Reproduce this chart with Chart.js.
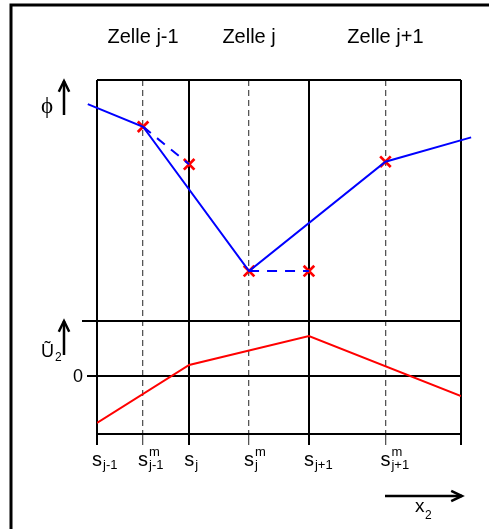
<!DOCTYPE html>
<html>
<head>
<meta charset="utf-8">
<script src="https://cdn.jsdelivr.net/npm/chart.js@4/dist/chart.umd.min.js"></script>
<style>
  html, body { margin: 0; padding: 0; background: #fff; }
  #wrap { position: relative; width: 489px; height: 529px; }
</style>
</head>
<body>
<div id="wrap"><canvas id="grafZellen" width="489" height="529"></canvas></div>
<script>
// Gitter in x2-Richtung: Zellgrenzen s und Zellmitten s^m
const gitterX = [0, 0.5, 1, 1.65, 2.3, 3.13, 3.95];
const istMitte = [false, true, false, true, false, true, false];

// Beschriftung der x-Achse (Grundbuchstabe, Index unten, Index oben)
const xLabelBasis = ['s', 's', 's', 's', 's', 's'];
const xLabelUnten = ['j-1', 'j-1', 'j', 'j', 'j+1', 'j+1'];
const xLabelOben = ['', 'm', '', 'm', '', 'm'];

// Zellnamen (über den Zellmitten)
const zellNamen = ['Zelle j-1', 'Zelle j', 'Zelle j+1'];
const zellMitten = [0.5, 1.65, 3.13];

// phi: stückweise lineare Rekonstruktion
const phiX = [-0.1, 0.5, 1.65, 3.13, 4.06];
const phiY = [9.0, 8.06, 2.07, 6.61, 7.62];

// phi: Werte an den Rändern (gestrichelt)
const phiRand1X = [0.5, 1];
const phiRand1Y = [8.06, 6.5];
const phiRand2X = [1.65, 2.3];
const phiRand2Y = [2.07, 2.07];

// Stützstellen (Kreuze)
const kreuzX = [0.5, 1, 1.65, 2.3, 3.13];
const kreuzY = [8.06, 6.5, 2.07, 2.07, 6.61];

// Geschwindigkeit U2 an den Zellgrenzen
const uX = [0, 1, 2.3, 3.95];
const uY = [-0.855, 0.2, 0.727, -0.364];

const phiMin = 0, phiMax = 10;
const uMin = -1.055, uMax = 1;
const uLinien = [uMax, 0, uMin];

const punkte = (xs, ys) => xs.map((x, i) => ({ x: x, y: ys[i] }));

const schrift = '"Liberation Sans", Arial, sans-serif';

// Rahmen, Linien und Beschriftungen
const zellenPlugin = {
  id: 'zellen',
  beforeDraw(chart) {
    const c = chart.ctx;
    c.save();
    c.strokeStyle = '#000';
    c.lineWidth = 3;
    c.beginPath();
    c.moveTo(11, chart.height + 5);
    c.lineTo(11, 5);
    c.lineTo(chart.width + 5, 5);
    c.stroke();
    c.restore();
  },
  beforeDatasetsDraw(chart) {
    const c = chart.ctx;
    const a = chart.chartArea;
    const yP = chart.scales.yPhi;
    const yU = chart.scales.yU;
    c.save();
    c.strokeStyle = '#000';
    c.lineWidth = 2;
    c.beginPath();
    const yTop = Math.round(yP.getPixelForValue(phiMax));
    c.moveTo(a.left, yTop);
    c.lineTo(a.right, yTop);
    uLinien.forEach((v) => {
      const y = Math.round(yU.getPixelForValue(v));
      const ueber = v === uMax ? 15 : (v === 0 ? 10 : 0);
      c.moveTo(a.left - ueber, y);
      c.lineTo(a.right, y);
    });
    c.stroke();
    c.restore();
  },
  afterDraw(chart) {
    const c = chart.ctx;
    const a = chart.chartArea;
    const x = chart.scales.x;
    const yP = chart.scales.yPhi;
    const yU = chart.scales.yU;
    c.save();
    c.fillStyle = '#000';
    c.strokeStyle = '#000';

    // Zellnamen
    c.font = '20px ' + schrift;
    c.textAlign = 'center';
    c.textBaseline = 'alphabetic';
    zellNamen.forEach((n, i) => {
      c.fillText(n, x.getPixelForValue(zellMitten[i]), a.top - 37);
    });

    // x-Beschriftung mit Indizes
    c.textAlign = 'left';
    xLabelBasis.forEach((b, i) => {
      const px = x.getPixelForValue(gitterX[i]);
      c.font = '20px ' + schrift;
      const w = c.measureText(b).width;
      const x0 = px - w / 2;
      c.fillText(b, x0, a.bottom + 32);
      c.font = '13px ' + schrift;
      c.fillText(xLabelUnten[i], x0 + w + 1, a.bottom + 35);
      if (xLabelOben[i]) c.fillText(xLabelOben[i], x0 + w + 1, a.bottom + 22);
    });

    // Null der U2-Achse
    c.font = '18px ' + schrift;
    c.textAlign = 'right';
    c.textBaseline = 'middle';
    c.fillText('0', a.left - 14, Math.round(yU.getPixelForValue(0)) + 1);

    // Pfeile
    const pfeil = (x1, y1, x2, y2) => {
      const w = Math.atan2(y2 - y1, x2 - x1);
      c.lineWidth = 2.5;
      c.beginPath();
      c.moveTo(x1, y1);
      c.lineTo(x2, y2);
      c.stroke();
      c.beginPath();
      c.moveTo(x2 - 12 * Math.cos(w - 0.45), y2 - 12 * Math.sin(w - 0.45));
      c.lineTo(x2, y2);
      c.lineTo(x2 - 12 * Math.cos(w + 0.45), y2 - 12 * Math.sin(w + 0.45));
      c.stroke();
    };
    const phiTop = yP.getPixelForValue(phiMax);
    pfeil(a.left - 33, phiTop + 35, a.left - 33, phiTop + 1);
    const uTop = yU.getPixelForValue(uMax);
    pfeil(a.left - 33, uTop + 34, a.left - 33, uTop);
    pfeil(a.right - 76, a.bottom + 62, a.right + 1, a.bottom + 62);

    // Achsensymbole
    c.textAlign = 'left';
    c.textBaseline = 'alphabetic';
    c.font = '23px "Liberation Serif", "DejaVu Serif", serif';
    c.fillText('\u03d5', a.left - 56, phiTop + 33);
    c.font = '18px ' + schrift;
    c.fillText('\u0168', a.left - 56, uTop + 36);
    c.font = '12px ' + schrift;
    c.fillText('2', a.left - 42, uTop + 40);
    c.font = '19px ' + schrift;
    c.fillText('x', a.right - 46, a.bottom + 78);
    c.font = '12px ' + schrift;
    c.fillText('2', a.right - 36, a.bottom + 85);
    c.restore();
  }
};

const ctx = document.getElementById('grafZellen').getContext('2d');

const grafZellen = new Chart(ctx, {
  type: 'line',
  data: {
    datasets: [
      {
        label: 'phi',
        data: punkte(phiX, phiY),
        yAxisID: 'yPhi',
        borderColor: '#0000ff',
        borderWidth: 2,
        pointRadius: 0,
        clip: false
      },
      {
        label: 'phi Rand 1',
        data: punkte(phiRand1X, phiRand1Y),
        yAxisID: 'yPhi',
        borderColor: '#0000ff',
        borderWidth: 2,
        borderDash: [10, 8],
        pointRadius: 0
      },
      {
        label: 'phi Rand 2',
        data: punkte(phiRand2X, phiRand2Y),
        yAxisID: 'yPhi',
        borderColor: '#0000ff',
        borderWidth: 2,
        borderDash: [10, 8],
        pointRadius: 0
      },
      {
        label: 'Stützstellen',
        data: punkte(kreuzX, kreuzY),
        yAxisID: 'yPhi',
        showLine: false,
        pointStyle: 'crossRot',
        pointRadius: 7.5,
        pointBorderWidth: 2.7,
        pointBorderColor: '#ff0000',
        borderColor: '#ff0000'
      },
      {
        label: 'U2',
        data: punkte(uX, uY),
        yAxisID: 'yU',
        borderColor: '#ff0000',
        borderWidth: 2,
        pointRadius: 0
      }
    ]
  },
  options: {
    responsive: false,
    animation: false,
    events: [],
    layout: { padding: { left: 97, right: 28, top: 80, bottom: 84 } },
    plugins: {
      legend: { display: false },
      tooltip: { enabled: false }
    },
    scales: {
      x: {
        type: 'linear',
        min: gitterX[0],
        max: gitterX[gitterX.length - 1],
        afterBuildTicks: (s) => { s.ticks = gitterX.map((v) => ({ value: v })); },
        ticks: { display: false },
        border: {
          display: false,
          dash: (c) => (istMitte[c.index] ? [6, 4] : [])
        },
        grid: {
          drawTicks: true,
          tickLength: 11,
          color: (c) => (istMitte[c.index] ? '#555' : '#000'),
          tickColor: (c) => (istMitte[c.index] ? '#555' : '#000'),
          lineWidth: (c) => (istMitte[c.index] ? 1.3 : 2),
          tickWidth: (c) => (istMitte[c.index] ? 1.3 : 2)
        }
      },
      // gestapelte Achsen: die zuletzt definierte liegt oben
      yU: {
        type: 'linear',
        position: 'left',
        stack: 'panel',
        stackWeight: 113,
        min: uMin,
        max: uMax,
        ticks: { display: false },
        grid: { display: false, drawTicks: false },
        border: { display: false }
      },
      yPhi: {
        type: 'linear',
        position: 'left',
        stack: 'panel',
        stackWeight: 241,
        min: phiMin,
        max: phiMax,
        ticks: { display: false },
        grid: { display: false, drawTicks: false },
        border: { display: false }
      }
    }
  },
  plugins: [zellenPlugin]
});
</script>
</body>
</html>
